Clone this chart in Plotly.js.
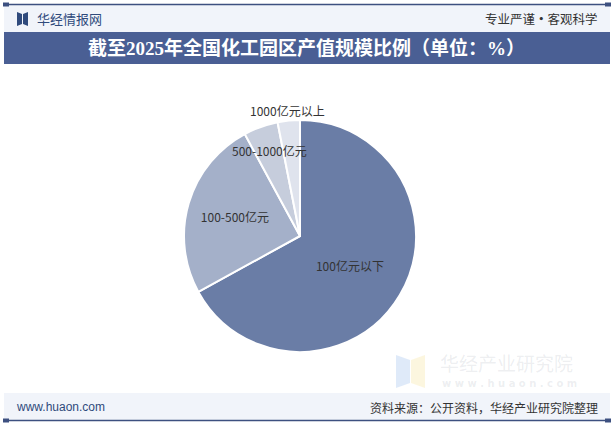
<!DOCTYPE html>
<html>
<head>
<meta charset="utf-8">
<script src="https://cdn.plot.ly/plotly-3.0.1.min.js"></script>
<style>
html,body{margin:0;padding:0;background:#ffffff;}
#chart{width:614px;height:425px;}
</style>
</head>
<body>
<div id="chart"></div>
<script>
const categories = ["100亿元以下", "100-500亿元", "500-1000亿元", "1000亿元以上"];
const shares = [67.0, 25.1, 4.8, 3.1];
const sliceColors = ["#6a7da6", "#a4b0c9", "#c6cddc", "#dfe3ed"];
const labelPlacement = ["inside", "inside", "over", "outside"];
const titleText = "截至2025年全国化工园区产值规模比例（单位：%）";
const sourceText = "资料来源：公开资料，华经产业研究院整理";

const W = 614, H = 425;
const px = v => v / W;
const py = v => 1 - v / H;
const cx = 300, cy = 236, r = 116;
const CJK = "Noto Sans CJK SC, sans-serif";

const trace = {
  type: "pie",
  labels: categories,
  values: shares,
  text: categories,
  textinfo: "text",
  texttemplate: "%{text}",
  hoverinfo: "label+value",
  sort: false,
  direction: "clockwise",
  rotation: 0,
  textposition: labelPlacement.map(p => p === "inside" ? "inside" : "none"),
  insidetextorientation: "horizontal",
  textfont: {family: CJK, size: 12, color: "#333333"},
  marker: {colors: sliceColors, line: {color: "#ffffff", width: 2}},
  domain: {x: [px(cx - r), px(cx + r)], y: [py(cy + r), py(cy - r)]},
  showlegend: false
};

// labels for the thin slices, placed along each slice's middle angle
const total = shares.reduce((a, b) => a + b, 0);
const sliceLabels = [];
let cum = 0;
shares.forEach((v, i) => {
  const mid = (cum + v / 2) / total * 2 * Math.PI;
  cum += v;
  if (labelPlacement[i] === "inside") return;
  const k = labelPlacement[i] === "over" ? 0.78 : 1.09;
  const lx = cx + k * r * Math.sin(mid);
  const ly = cy - k * r * Math.cos(mid);
  sliceLabels.push({xref: "paper", yref: "paper", x: px(lx), y: py(ly), xanchor: "center", yanchor: "middle",
    showarrow: false, text: categories[i], font: {family: CJK, size: 12, color: "#333333"}});
});

const wm = [];
const wmPos = [[100, 92], [100, 215], [100, 340], [440, 92], [440, 215], [440, 290]];
wmPos.forEach(p => {
  wm.push({xref: "paper", yref: "paper", x: px(p[0]), y: py(p[1]), text: "华经产业研究院", showarrow: false,
    textangle: -8, font: {family: CJK, size: 24, color: "rgba(60,80,120,0.022)"}});
});

const layout = {
  width: W, height: H,
  margin: {l: 0, r: 0, t: 0, b: 0},
  paper_bgcolor: "#ffffff",
  plot_bgcolor: "#ffffff",
  shapes: [
    {type: "rect", xref: "paper", yref: "paper", x0: px(4), x1: px(610), y0: py(5), y1: py(32), fillcolor: "#f1f4fa", line: {width: 0}, layer: "below"},
    {type: "line", xref: "paper", yref: "paper", x0: px(4), x1: px(610), y0: py(4.5), y1: py(4.5), line: {color: "#3d5080", width: 1.5}},
    {type: "rect", xref: "paper", yref: "paper", x0: px(3), x1: px(9), y0: py(2.5), y1: py(6.5), fillcolor: "#3d5080", line: {width: 0}},
    {type: "rect", xref: "paper", yref: "paper", x0: px(605), x1: px(611), y0: py(2.5), y1: py(6.5), fillcolor: "#3d5080", line: {width: 0}},
    {type: "rect", xref: "paper", yref: "paper", x0: px(4), x1: px(610), y0: py(32), y1: py(64), fillcolor: "#4a5f94", line: {width: 0}},
    {type: "rect", xref: "paper", yref: "paper", x0: px(4), x1: px(610), y0: py(393), y1: py(420), fillcolor: "#f1f4fa", line: {width: 0}, layer: "below"},
    {type: "line", xref: "paper", yref: "paper", x0: px(4), x1: px(610), y0: py(420.5), y1: py(420.5), line: {color: "#3d5080", width: 1.5}},
    {type: "rect", xref: "paper", yref: "paper", x0: px(3), x1: px(9), y0: py(418.5), y1: py(422.5), fillcolor: "#3d5080", line: {width: 0}},
    {type: "rect", xref: "paper", yref: "paper", x0: px(605), x1: px(611), y0: py(418.5), y1: py(422.5), fillcolor: "#3d5080", line: {width: 0}},
    {type: "path", xref: "paper", yref: "paper",
     path: "M " + px(17) + "," + py(12) + " L " + px(22) + "," + py(14) + " L " + px(22) + "," + py(24) + " L " + px(17) + "," + py(26) + " Z",
     fillcolor: "#2f4a7c", line: {width: 0}},
    {type: "path", xref: "paper", yref: "paper",
     path: "M " + px(28) + "," + py(12) + " L " + px(23) + "," + py(14) + " L " + px(23) + "," + py(24) + " L " + px(28) + "," + py(26) + " Z",
     fillcolor: "#2f4a7c", line: {width: 0}},
    {type: "path", xref: "paper", yref: "paper",
     path: "M " + px(396) + "," + py(355) + " L " + px(410) + "," + py(360) + " L " + px(410) + "," + py(383) + " L " + px(396) + "," + py(388) + " Z",
     fillcolor: "rgba(150,185,235,0.3)", line: {width: 0}, layer: "below"},
    {type: "path", xref: "paper", yref: "paper",
     path: "M " + px(425) + "," + py(355) + " L " + px(411) + "," + py(360) + " L " + px(411) + "," + py(383) + " L " + px(425) + "," + py(388) + " Z",
     fillcolor: "rgba(245,225,150,0.3)", line: {width: 0}, layer: "below"}
  ],
  annotations: wm.concat(sliceLabels, [
    {xref: "paper", yref: "paper", x: px(35), y: py(18.5), xanchor: "left", yanchor: "middle", showarrow: false,
     text: "华经情报网", font: {family: CJK, size: 13, color: "#2f4a7c"}},
    {xref: "paper", yref: "paper", x: px(600), y: py(18.5), xanchor: "right", yanchor: "middle", showarrow: false,
     text: "专业严谨<b>•</b>客观科学", font: {family: CJK, size: 12.5, color: "#333333"}},
    {xref: "paper", yref: "paper", x: px(306), y: py(48), xanchor: "center", yanchor: "middle", showarrow: false,
     text: "<b>" + titleText + "</b>", font: {family: "Liberation Serif, Noto Sans CJK SC, serif", size: 19, color: "#ffffff"}},
    {xref: "paper", yref: "paper", x: px(438), y: py(362), xanchor: "left", yanchor: "middle", showarrow: false,
     text: "华经产业研究院", font: {family: CJK, size: 19, color: "rgba(120,130,150,0.14)"}},
    {xref: "paper", yref: "paper", x: px(440), y: py(383), xanchor: "left", yanchor: "middle", showarrow: false,
     text: "<b>w w w . h u a o n . c o m</b>", font: {family: "DejaVu Sans, sans-serif", size: 10, color: "rgba(120,130,150,0.14)"}},
    {xref: "paper", yref: "paper", x: px(14), y: py(407), xanchor: "left", yanchor: "middle", showarrow: false,
     text: "www.huaon.com", font: {family: "Liberation Sans, Arial, sans-serif", size: 12, color: "#2f4a7c"}},
    {xref: "paper", yref: "paper", x: px(600), y: py(407), xanchor: "right", yanchor: "middle", showarrow: false,
     text: sourceText, font: {family: CJK, size: 12, color: "#333333"}}
  ])
};

Plotly.newPlot("chart", [trace], layout, {displayModeBar: false, staticPlot: true});
</script>
</body>
</html>
